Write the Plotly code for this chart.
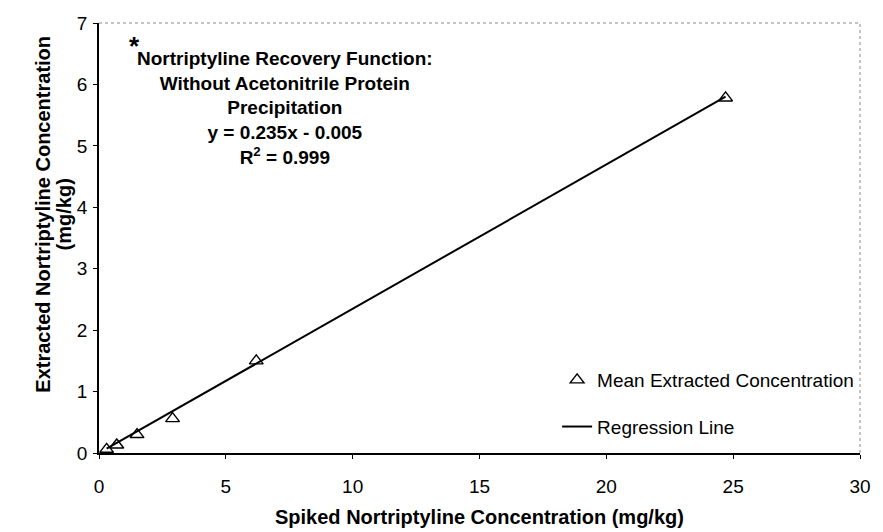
import plotly.graph_objects as go

# Data
spiked_conc = [0.3, 0.7, 1.5, 2.9, 6.2, 24.7]
mean_extracted = [0.06, 0.13, 0.30, 0.56, 1.50, 5.78]
reg_x = [0.3, 24.7]
reg_y = [0.07, 5.80]
x_ticks = [0, 5, 10, 15, 20, 25, 30]
y_ticks = [0, 1, 2, 3, 4, 5, 6, 7]

FONT = "Arial, 'Liberation Sans', sans-serif"

fig = go.Figure()
fig.add_trace(go.Scatter(
    x=spiked_conc, y=mean_extracted, mode="markers",
    name="Mean Extracted Concentration", legendgroup="a",
    marker=dict(symbol="triangle-up-open", size=12, color="black",
                line=dict(width=1.4, color="black")),
))
fig.add_trace(go.Scatter(
    x=reg_x, y=reg_y, mode="lines",
    name="Regression Line", legendgroup="b",
    line=dict(color="black", width=2),
))

fig.update_layout(
    width=883, height=532,
    margin=dict(l=99, r=13, t=23, b=79),
    paper_bgcolor="white", plot_bgcolor="white",
    font=dict(family=FONT, size=19, color="black"),
    showlegend=True,
    legend=dict(x=0.602, y=0.214, xanchor="left", yanchor="top",
                bgcolor="rgba(0,0,0,0)", font=dict(size=19),
                tracegroupgap=19, itemwidth=30),
    xaxis=dict(range=[0, 30], tickvals=x_ticks, showgrid=False, zeroline=False,
               showline=True, linecolor="black", linewidth=1.5,
               ticks="outside", ticklen=4, tickcolor="black",
               ticklabelstandoff=11, tickfont=dict(size=19)),
    yaxis=dict(range=[0, 7], tickvals=y_ticks, showgrid=False, zeroline=False,
               showline=True, linecolor="black", linewidth=1.5,
               ticks="outside", ticklen=4, tickcolor="black",
               ticklabelstandoff=2, tickfont=dict(size=19)),
    shapes=[
        dict(type="line", xref="paper", yref="paper", x0=0, x1=1, y0=1, y1=1,
             line=dict(color="#888", width=1, dash="dot")),
        dict(type="line", xref="paper", yref="paper", x0=1, x1=1, y0=0, y1=1,
             line=dict(color="#888", width=1, dash="dot")),
    ],
    annotations=[
        dict(xref="paper", yref="paper", x=0.5, y=-0.149,
             xanchor="center", yanchor="middle", showarrow=False,
             text="<b>Spiked Nortriptyline Concentration (mg/kg)</b>",
             font=dict(size=20)),
        dict(xref="paper", yref="paper", x=-0.0739, y=0.556,
             xanchor="center", yanchor="middle", showarrow=False, textangle=-90,
             text="<b>Extracted Nortriptyline Concentration</b>",
             font=dict(size=20)),
        dict(xref="paper", yref="paper", x=-0.0467, y=0.556,
             xanchor="center", yanchor="middle", showarrow=False, textangle=-90,
             text="<b>(mg/kg)</b>",
             font=dict(size=20)),
        dict(xref="paper", yref="paper", x=0.046, y=0.947,
             xanchor="center", yanchor="middle", showarrow=False,
             text="<b>*</b>", font=dict(size=26)),
        dict(xref="paper", yref="paper", x=0.245, y=0.802,
             xanchor="center", yanchor="middle", showarrow=False, align="center",
             text=("<b>Nortriptyline Recovery Function:<br>"
                   "Without Acetonitrile Protein<br>Precipitation<br>"
                   "y = 0.235x - 0.005<br>R<sup>2</sup> = 0.999</b>"),
             font=dict(size=19)),
    ],
)

fig.write_html("out.html", config={"displayModeBar": False})

# remove the default page margin so the figure sits at the window's origin
with open("out.html", "r", encoding="utf-8") as f:
    html = f.read()
html = html.replace("<head>", "<head><style>html,body{margin:0;padding:0;}</style>", 1)
with open("out.html", "w", encoding="utf-8") as f:
    f.write(html)
